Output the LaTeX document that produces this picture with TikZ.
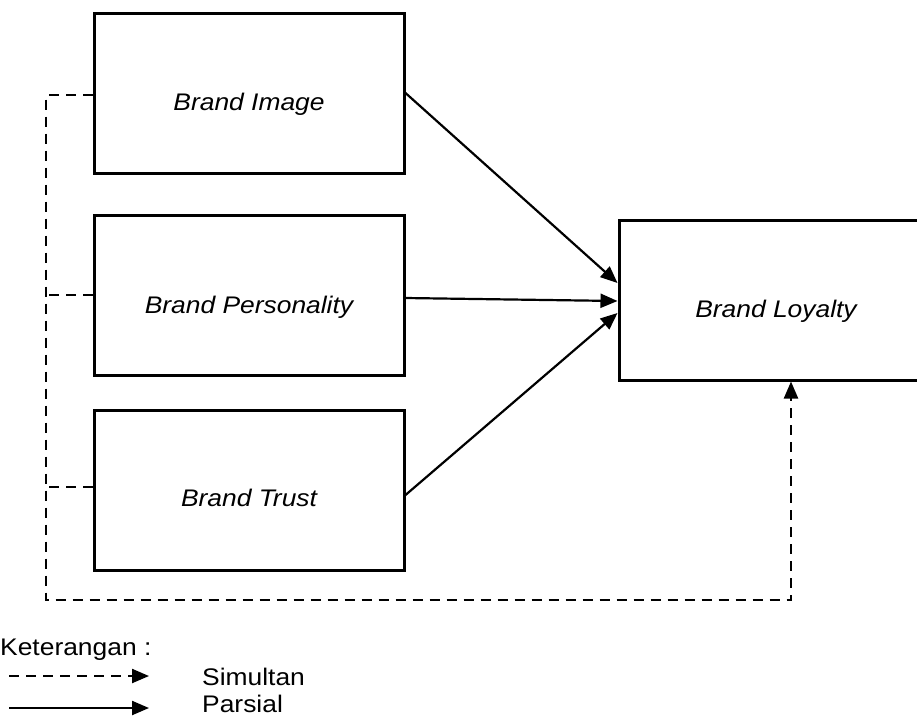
\documentclass[tikz,border=0pt]{standalone}
\usepackage{fontspec}
\setmainfont{Liberation Sans}[FakeStretch=1.1]
\usetikzlibrary{arrows.meta}
\begin{document}
\begin{tikzpicture}[x=1pt,y=-1pt,
  box/.style={draw, line width=3pt, minimum width=310pt, minimum height=160pt, inner sep=0pt},
  boxtext/.style={font=\fontsize{24}{29}\selectfont\itshape, inner sep=0pt, anchor=base},
  legtext/.style={font=\fontsize{24}{29}\selectfont, inner sep=0pt, anchor=base west},
  solidarrow/.style={line width=2.2pt, -{Triangle[length=17pt,width=14pt]}},
  simline/.style={line width=2.2pt, dash pattern=on 10pt off 7pt},
  simarrow/.style={simline, -{Triangle[length=17pt,width=14pt]}}]
\useasboundingbox (0,0) rectangle (917,716);
% boxes
\node[box] (img) at (249,93) {};
\node[box] (per) at (249,295) {};
\node[box] (tru) at (249,490) {};
\node[box, minimum width=314pt] (loy) at (776,300) {};
% texts
\node[boxtext] (imgT) at ([yshift=-17pt]img.center) {Brand Image};
\node[boxtext] (perT) at ([yshift=-18pt]per.center) {Brand Personality};
\node[boxtext] (truT) at ([yshift=-16pt]tru.center) {Brand Trust};
\node[boxtext] (loyT) at ([yshift=-17pt]loy.center) {Brand Loyalty};
% partial arrows
\draw[solidarrow] (img.east) -- ([yshift=17pt]loy.west);
\draw[solidarrow] ([yshift=-3pt]per.east) -- ([yshift=-1pt]loy.west);
\draw[solidarrow] ([yshift=-5pt]tru.east) -- ([yshift=-13pt]loy.west);
% simultaneous
\coordinate (vx) at (46,0);
\coordinate (bl) at (46,600);
\coordinate (br) at (791,600);
\draw[simarrow] ([yshift=-2pt]img.west) -- ([yshift=-2pt]img.west -| vx) -- (bl) -- (br) -- (br |- loy.south);
\draw[simline] (per.west) -- (per.west -| vx);
\draw[simline] ([yshift=3pt]tru.west) -- ([yshift=3pt]tru.west -| vx);
% legend
\node[legtext] (ket) at (0,655) {Keterangan :};
\coordinate (d1) at (9,676);
\coordinate (d2) at (149,676);
\coordinate (s1) at (9,708);
\coordinate (s2) at (149,708);
\draw[simarrow] (d1) -- (d2);
\draw[solidarrow] (s1) -- (s2);
\node[legtext] (sim) at (202,685) {Simultan};
\node[legtext] (par) at (202,712) {Parsial};
\end{tikzpicture}
\end{document}
